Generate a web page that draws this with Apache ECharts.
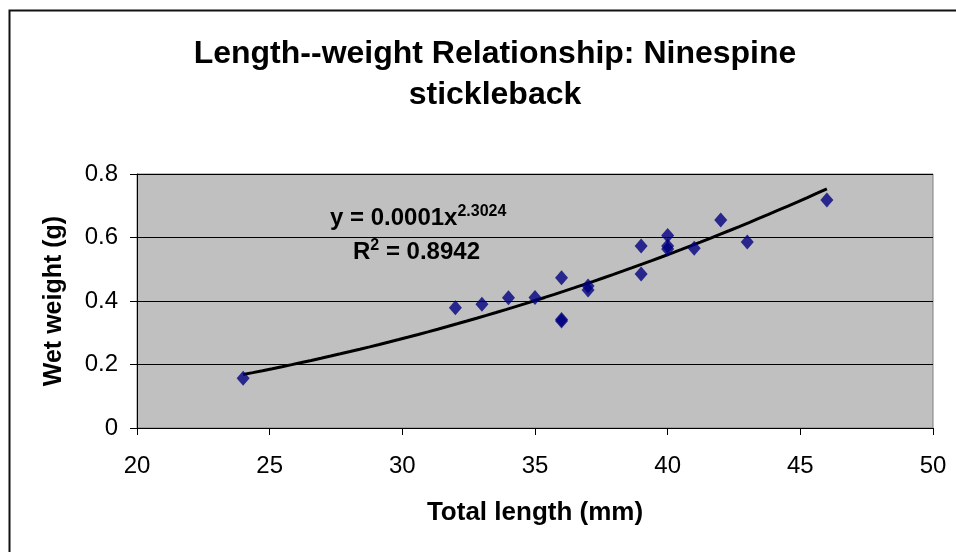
<!DOCTYPE html>
<html>
<head>
<meta charset="utf-8">
<script src="https://cdn.jsdelivr.net/npm/echarts@6/dist/echarts.min.js"></script>
<style>
	html, body { margin: 0; padding: 0; background: #fff; }
	#chart { width: 956px; height: 552px; }
</style>
</head>
<body>
<div id="chart"></div>
<script>
// length (mm) and wet weight (g)
var lengths = [24, 32, 33, 34, 35, 36, 36, 36, 37, 37, 39, 39, 40, 40, 40, 41, 42, 43, 46];
var weights = [0.157, 0.379, 0.39, 0.41, 0.411, 0.473, 0.337, 0.342, 0.447, 0.435, 0.573, 0.485, 0.606, 0.573, 0.564, 0.566, 0.655, 0.586, 0.718];
var xTicks = [20, 25, 30, 35, 40, 45, 50];
var yTicks = [0, 0.2, 0.4, 0.6, 0.8];
// exponent of the power trendline, as printed on the chart
var trendExp = 2.3024;

var points = [];
for (var i = 0; i < lengths.length; i++) {
	points.push([lengths[i], weights[i]]);
}

// y = a*x^b, b from the label, a fitted on logs to the points
var n = lengths.length, sum = 0;
for (var i = 0; i < n; i++) {
	sum += Math.log(weights[i]) - trendExp * Math.log(lengths[i]);
}
var a = Math.exp(sum / n);
var xmin = Math.min.apply(null, lengths), xmax = Math.max.apply(null, lengths);
var trend = [];
for (var k = 0; k <= 60; k++) {
	var x = xmin + (xmax - xmin) * k / 60;
	trend.push([x, a * Math.pow(x, trendExp)]);
}

var font = 'Liberation Sans, Arial, sans-serif';
var rich = {
	m: { fontFamily: font, fontSize: 24, fontWeight: 'bold', fill: '#000', padding: [10, 0, 0, 0] },
	s: { fontFamily: font, fontSize: 16, fontWeight: 'bold', fill: '#000', padding: [0, 0, 3, 0] }
};
var chart = echarts.init(document.getElementById('chart'));
var option = {
	animation: false,
	backgroundColor: '#fff',
	title: {
		text: 'Length--weight Relationship: Ninespine\nstickleback',
		left: 490,
		top: 29,
		textAlign: 'center',
		textStyle: {
			fontFamily: font,
			fontSize: 32,
			fontWeight: 'bold',
			color: '#000',
			lineHeight: 41
		}
	},
	grid: {
		left: 137,
		right: 23,
		top: 174,
		bottom: 124,
		show: true,
		backgroundColor: '#c0c0c0',
		borderColor: '#808080',
		borderWidth: 1
	},
	xAxis: {
		type: 'value',
		min: xTicks[0],
		max: xTicks[xTicks.length - 1],
		interval: xTicks[1] - xTicks[0],
		name: 'Total length (mm)',
		nameLocation: 'middle',
		nameGap: 72,
		nameTextStyle: { fontFamily: font, fontSize: 26, fontWeight: 'bold', color: '#000' },
		axisLine: { show: true, lineStyle: { color: '#000', width: 1 } },
		axisTick: { show: true, length: 7, lineStyle: { color: '#000' } },
		axisLabel: { fontFamily: font, fontSize: 24, color: '#000', margin: 26 },
		splitLine: { show: false }
	},
	yAxis: {
		type: 'value',
		min: yTicks[0],
		max: yTicks[yTicks.length - 1],
		interval: yTicks[1] - yTicks[0],
		name: 'Wet weight (g)',
		nameLocation: 'middle',
		nameGap: 70,
		nameTextStyle: { fontFamily: font, fontSize: 25, fontWeight: 'bold', color: '#000' },
		axisLine: { show: true, lineStyle: { color: '#000', width: 1 } },
		axisTick: { show: true, length: 7, lineStyle: { color: '#000' } },
		axisLabel: {
			fontFamily: font, fontSize: 24, color: '#000', margin: 19,
			formatter: function (v) { return String(Math.round(v * 10) / 10); }
		},
		splitLine: { show: true, lineStyle: { color: '#000', width: 1 } }
	},
	series: [{
		type: 'line',
		data: trend,
		showSymbol: false,
		lineStyle: { color: '#000', width: 3 },
		z: 2
	}, {
		type: 'scatter',
		data: points,
		symbol: 'diamond',
		symbolSize: [13, 15],
		itemStyle: { color: '#000080' },
		z: 3
	}],
	graphic: [{
		type: 'rect',
		shape: { x: 9.5, y: 10.5, width: 1000, height: 600 },
		style: { fill: null, stroke: '#111', lineWidth: 2 },
		silent: true
	}, {
		type: 'text',
		left: 330,
		top: 204,
		style: { text: '{m|y = 0.0001x}{s|2.3024}', rich: rich },
		z: 10
	}, {
		type: 'text',
		left: 353,
		top: 238,
		style: { text: '{m|R}{s|2}{m| = 0.8942}', rich: rich },
		z: 10
	}]
};
chart.setOption(option);
</script>
</body>
</html>
